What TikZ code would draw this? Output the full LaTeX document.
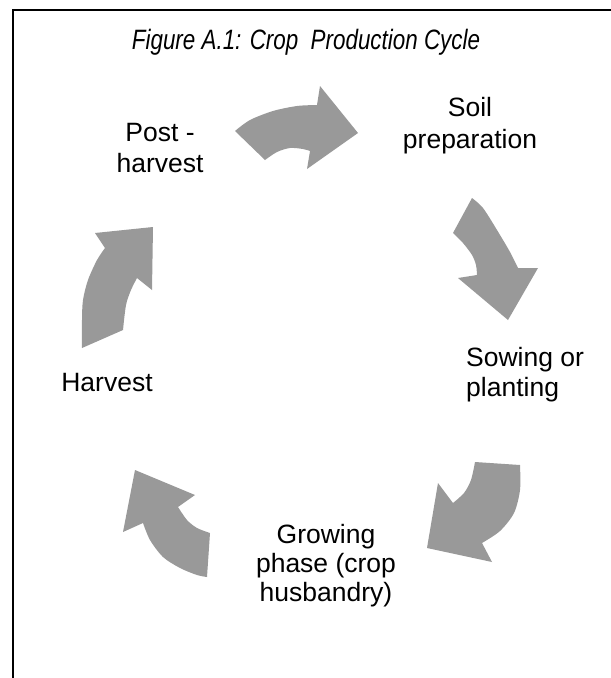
\documentclass[tikz,border=0pt]{standalone}
\usepackage{fontspec}
\setmainfont{Liberation Sans}
\newfontfamily\titlefont[FakeStretch=0.8]{Liberation Sans}
\definecolor{arrowgray}{HTML}{999999}
\tikzset{
  carrow/.style={fill=arrowgray, draw=none},
  lab/.style={inner sep=0pt, text=black},
  frameline/.style={line width=2pt, draw=black, line join=miter}
}
\begin{document}
\begin{tikzpicture}[x=1pt,y=-1pt]
\useasboundingbox (0,0) rectangle (611,678);
\fill[white] (0,0) rectangle (611,678);
\draw[frameline] (12.5,678) -- (12.5,9.5) -- (611,9.5);

% title
\node[lab, anchor=base, font=\titlefont\itshape\fontsize{28}{32}\selectfont] (title) at (306,49) {Figure A.1: Crop\ \ Production Cycle};

% arrows
\fill[carrow] plot[smooth] coordinates {(235,131) (250,120) (273,111) (297,106) (317,105)} -- (320,86) -- (358,133) -- (307,169)
  -- plot[smooth] coordinates {(310,151) (303,149) (290,148) (277,152) (265,160)} -- cycle;
\fill[carrow] plot[smooth] coordinates {(472,198) (483,208) (497,230) (510,252) (518,268)} -- (538,268) -- (508,320) -- (458,278)
  -- plot[smooth] coordinates {(477,275) (476,265) (472,255) (463,243) (453,233)} -- cycle;
\fill[carrow] plot[smooth] coordinates {(520,465) (520,490) (514,513) (500,531) (482,543)} -- (492,562) -- (427,548) -- (438,483)
  -- plot[smooth] coordinates {(453,503) (464,493) (471,480) (475,462)} -- cycle;
\fill[carrow] plot[smooth] coordinates {(207,577) (197,575) (180,568) (163,557) (150,540) (143,523)} -- (123,532) -- (135,470) -- (195,495)
  -- plot[smooth] coordinates {(178,507) (187,520) (197,528) (210,533)} -- cycle;
\fill[carrow] plot[smooth] coordinates {(82,348) (82,320) (83,300) (88,280) (97,260) (105,248)} -- (95,233) -- (153,227) -- (152,290)
  -- plot[smooth] coordinates {(137,278) (131,290) (126,305) (123,330)} -- cycle;

% labels (base anchor = baseline of last line)
\node[lab, align=center, anchor=base, font=\fontsize{26.5}{32}\selectfont] (soil) at (470,148) {Soil\\preparation};
\node[lab, align=left, anchor=base west, font=\fontsize{26.5}{29.5}\selectfont] (sow) at (466,396) {Sowing or\\planting};
\node[lab, align=center, anchor=base, font=\fontsize{26.5}{29}\selectfont] (grow) at (326,601) {Growing\\phase (crop\\husbandry)};
\node[lab, anchor=base, font=\fontsize{26.5}{29.5}\selectfont] (harv) at (107,391) {Harvest};
\node[lab, align=center, anchor=base, font=\fontsize{26.5}{31}\selectfont] (post) at (160,172) {Post -\\harvest};
\end{tikzpicture}
\end{document}
